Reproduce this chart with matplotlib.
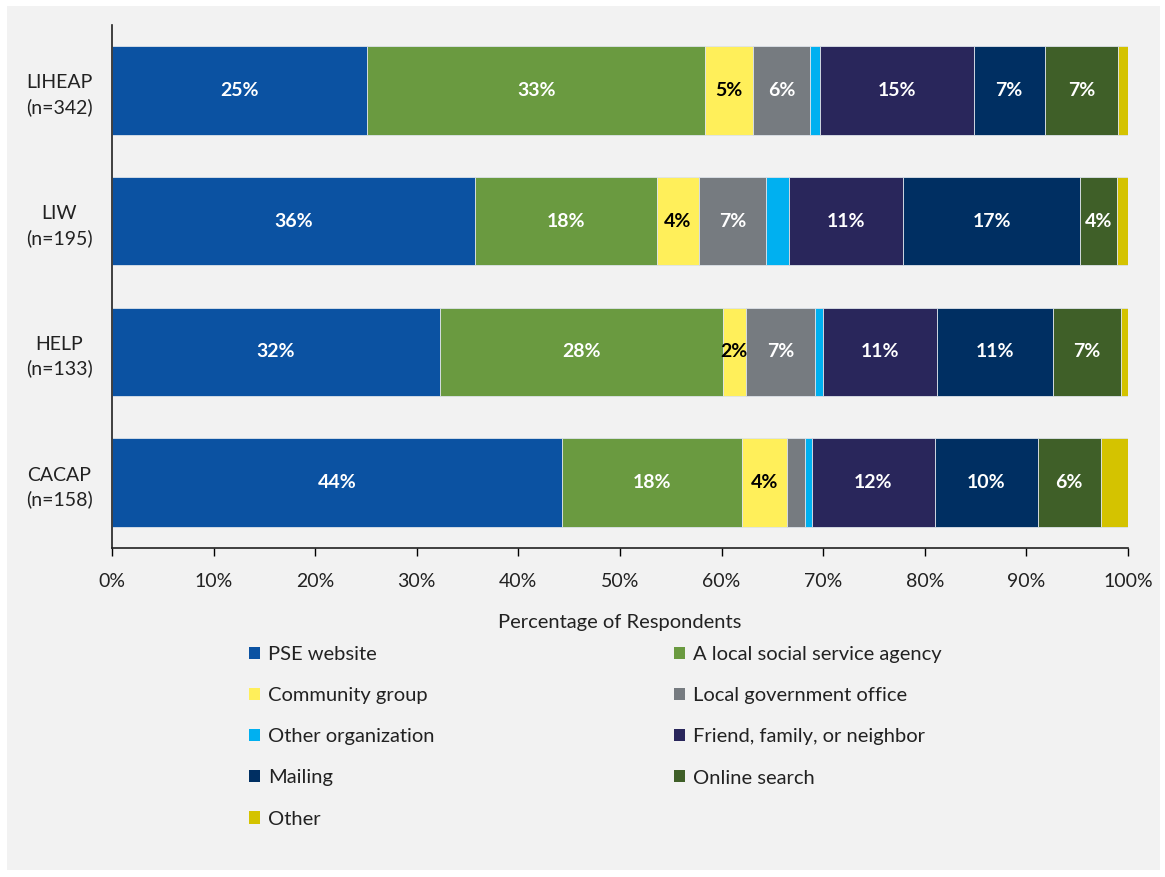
import matplotlib
matplotlib.use("Agg")
import matplotlib.pyplot as plt
from matplotlib.patches import Rectangle, Patch
import numpy as np

plt.rcParams['font.family'] = ['Lato', 'DejaVu Sans']

categories = ["LIHEAP\n(n=342)", "LIW\n(n=195)", "HELP\n(n=133)", "CACAP\n(n=158)"]
series = ["PSE website", "A local social service agency", "Community group",
          "Local government office", "Other organization", "Friend, family, or neighbor",
          "Mailing", "Online search", "Other"]
pse_website = [25.1, 35.7, 32.3, 44.3]
local_agency = [33.3, 17.9, 27.8, 17.7]
community_group = [4.7, 4.2, 2.3, 4.4]
local_gov = [5.6, 6.6, 6.8, 1.8]
other_org = [1.0, 2.2, 0.8, 0.7]
friend_family = [15.1, 11.3, 11.2, 12.1]
mailing = [7.0, 17.4, 11.4, 10.1]
online_search = [7.2, 3.6, 6.7, 6.2]
other = [1.0, 1.1, 0.7, 2.7]

values = [pse_website, local_agency, community_group, local_gov, other_org,
          friend_family, mailing, online_search, other]
colors = ["#0b52a2", "#6a9a40", "#ffef5a", "#767b80", "#00b0f0",
          "#29265b", "#002f62", "#3f5f28", "#d4c300"]
label_colors = ["white", "white", "black", "white", None, "white", "white", "white", None]

W, H = 1165, 877
fig = plt.figure(figsize=(W/100, H/100), dpi=100, facecolor="white")
fig.patches.append(Rectangle((7/W, 1 - 870/H), (1160-7)/W, (870-6)/H,
                             transform=fig.transFigure, facecolor="#f2f2f2",
                             edgecolor="none", zorder=-10))

ax = fig.add_axes([112/W, 1 - 548/H, (1128-112)/W, (548-25)/H])
ax.set_facecolor("none")
ax.set_zorder(2)

y = np.arange(len(categories))
left = np.zeros(len(categories))
for vals, col, lc, name in zip(values, colors, label_colors, series):
    vals = np.array(vals)
    ax.barh(y, vals, left=left, height=0.675, color=col, edgecolor="#dde3ea",
            linewidth=0.6, label=name)
    if lc is not None:
        for yi, (l, v) in enumerate(zip(left, vals)):
            if v >= 2:
                ax.text(l + v/2, yi, f"{round(v)}%", ha="center", va="center",
                        color=lc, fontsize=14, fontweight="bold")
    left += vals

ax.set_xlim(0, 100)
ax.set_ylim(len(categories) - 0.5, -0.5)
ax.set_yticks(y)
ax.set_yticklabels(categories, fontsize=14, color="#222222", multialignment="center",
                   linespacing=1.45)
ax.tick_params(axis="y", length=0, pad=14)
ax.set_xticks(np.arange(0, 101, 10))
ax.set_xticklabels([f"{t}%" for t in range(0, 101, 10)], fontsize=14, color="#222222")
ax.tick_params(axis="x", length=6, width=1, direction="out", pad=12)
for s in ["top", "right"]:
    ax.spines[s].set_visible(False)
for s in ["left", "bottom"]:
    ax.spines[s].set_color("#222222")
    ax.spines[s].set_linewidth(1.2)
ax.set_xlabel("Percentage of Respondents", fontsize=14.5, color="#222222", labelpad=17)

handles = [Patch(facecolor=c, edgecolor="none") for c in colors]
col1 = [0, 2, 4, 6, 8]
col2 = [1, 3, 5, 7]
for idx, xpos in ((col1, 249), (col2, 674)):
    leg = fig.legend([handles[i] for i in idx], [series[i] for i in idx],
                     loc="upper left", bbox_to_anchor=(xpos/W, 1 - 646/H),
                     frameon=False, fontsize=14.5, handlelength=0.55, handleheight=0.55,
                     handletextpad=0.4, labelspacing=1.2, borderpad=0, borderaxespad=0)
    for t in leg.get_texts():
        t.set_color("#222222")

fig.savefig("out.png", dpi=100, facecolor="white")
